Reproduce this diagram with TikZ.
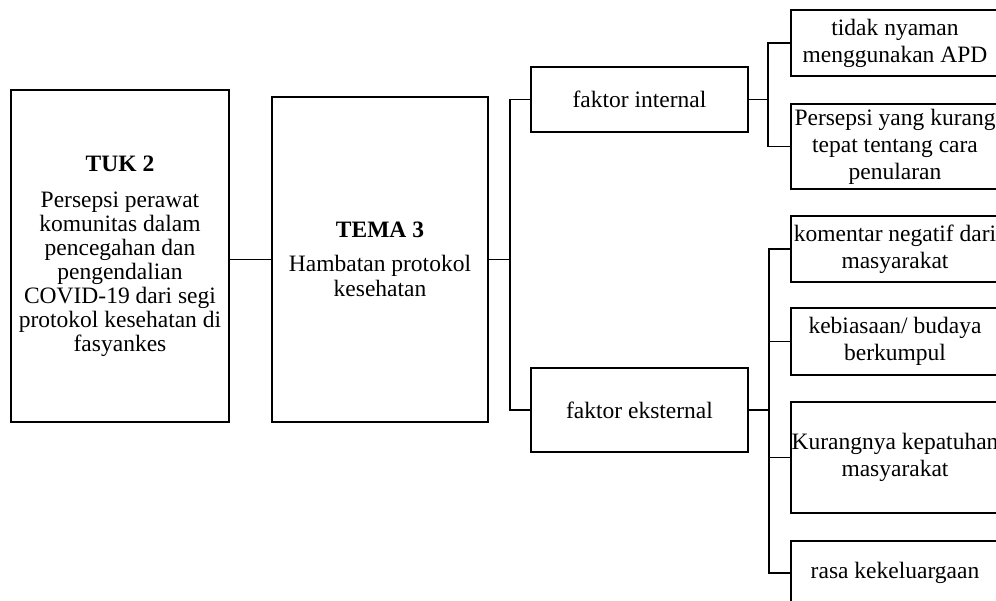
\documentclass[tikz,border=0pt]{standalone}
\usepackage{fontspec}
\setmainfont{Liberation Serif}
% zero-width line so that long labels never widen their box
\newcommand\zw[1]{\makebox[0pt]{#1}}
\begin{document}
\begin{tikzpicture}[x=1pt,y=-1pt,
  box/.style={draw, line width=1.6pt, rectangle, inner sep=0pt, align=center,
              font=\fontsize{23.5}{25}\selectfont},
  tight/.style={font=\fontsize{23.5}{24}\selectfont},
  loose/.style={font=\fontsize{23.5}{27}\selectfont},
  link/.style={line width=1.6pt}]
\clip (0,0) rectangle (996,600);
\useasboundingbox (0,0) rectangle (996,600);

% main column
\node[box, tight, minimum width=218pt, minimum height=332pt] (tuk) at (120,256)
  {{\bfseries TUK 2}\\[12pt]Persepsi perawat\\komunitas dalam\\pencegahan dan\\pengendalian\\COVID-19 dari segi\\protokol kesehatan di\\fasyankes};
\node[box, minimum width=216pt, minimum height=325pt] (tema) at (380,259.5)
  {{\bfseries TEMA 3}\\[9pt]Hambatan protokol\\kesehatan};

% factor boxes
\node[box, minimum width=217pt, minimum height=65pt] (fint) at (639.5,99.5) {faktor internal};
\node[box, minimum width=217pt, minimum height=84pt] (feks) at (639.5,410) {faktor eksternal};

% detail boxes (right edge runs off the page)
\node[box, loose, minimum width=208pt, minimum height=66pt] (r1) at (895,43)
  {\zw{tidak nyaman}\\\zw{menggunakan APD}};
\node[box, loose, minimum width=208pt, minimum height=85pt] (r2) at (895,146.5)
  {\zw{Persepsi yang kurang}\\\zw{tepat tentang cara}\\\zw{penularan}};
\node[box, loose, minimum width=208pt, minimum height=66pt] (r3) at (895,249)
  {\zw{komentar negatif dari}\\\zw{masyarakat}};
\node[box, loose, minimum width=208pt, minimum height=67pt] (r4) at (895,341.5)
  {\zw{kebiasaan/ budaya}\\\zw{berkumpul}};
\node[box, loose, minimum width=208pt, minimum height=111pt] (r5) at (895,457.5)
  {\zw{Kurangnya kepatuhan}\\\zw{masyarakat}};
\node[box, loose, minimum width=208pt, minimum height=64pt] (r6) at (895,573)
  {\zw{rasa kekeluargaan}};

% bus lines
\coordinate (b1) at (510,0);
\coordinate (b2) at (768,0);
\coordinate (b3) at (769,0);

\draw[link] (tuk.east |- tema.west) -- (tema.west);
\draw[link] (tema.east) -- (b1 |- tema.east);
\draw[link] (fint.west) -- (b1 |- fint.west) -- (b1 |- feks.west) -- (feks.west);

\draw[link] (fint.east) -- (b2 |- fint.east);
\draw[link] (r1.west) -- (b2 |- r1.west) -- (b2 |- r2.west) -- (r2.west);

\draw[link] (feks.east) -- (b3 |- feks.east);
\draw[link] (r3.west) -- (b3 |- r3.west) -- (b3 |- r6.west) -- (r6.west);
\draw[link] (r4.west) -- (b3 |- r4.west);
\draw[link] (r5.west) -- (b3 |- r5.west);
\end{tikzpicture}
\end{document}
